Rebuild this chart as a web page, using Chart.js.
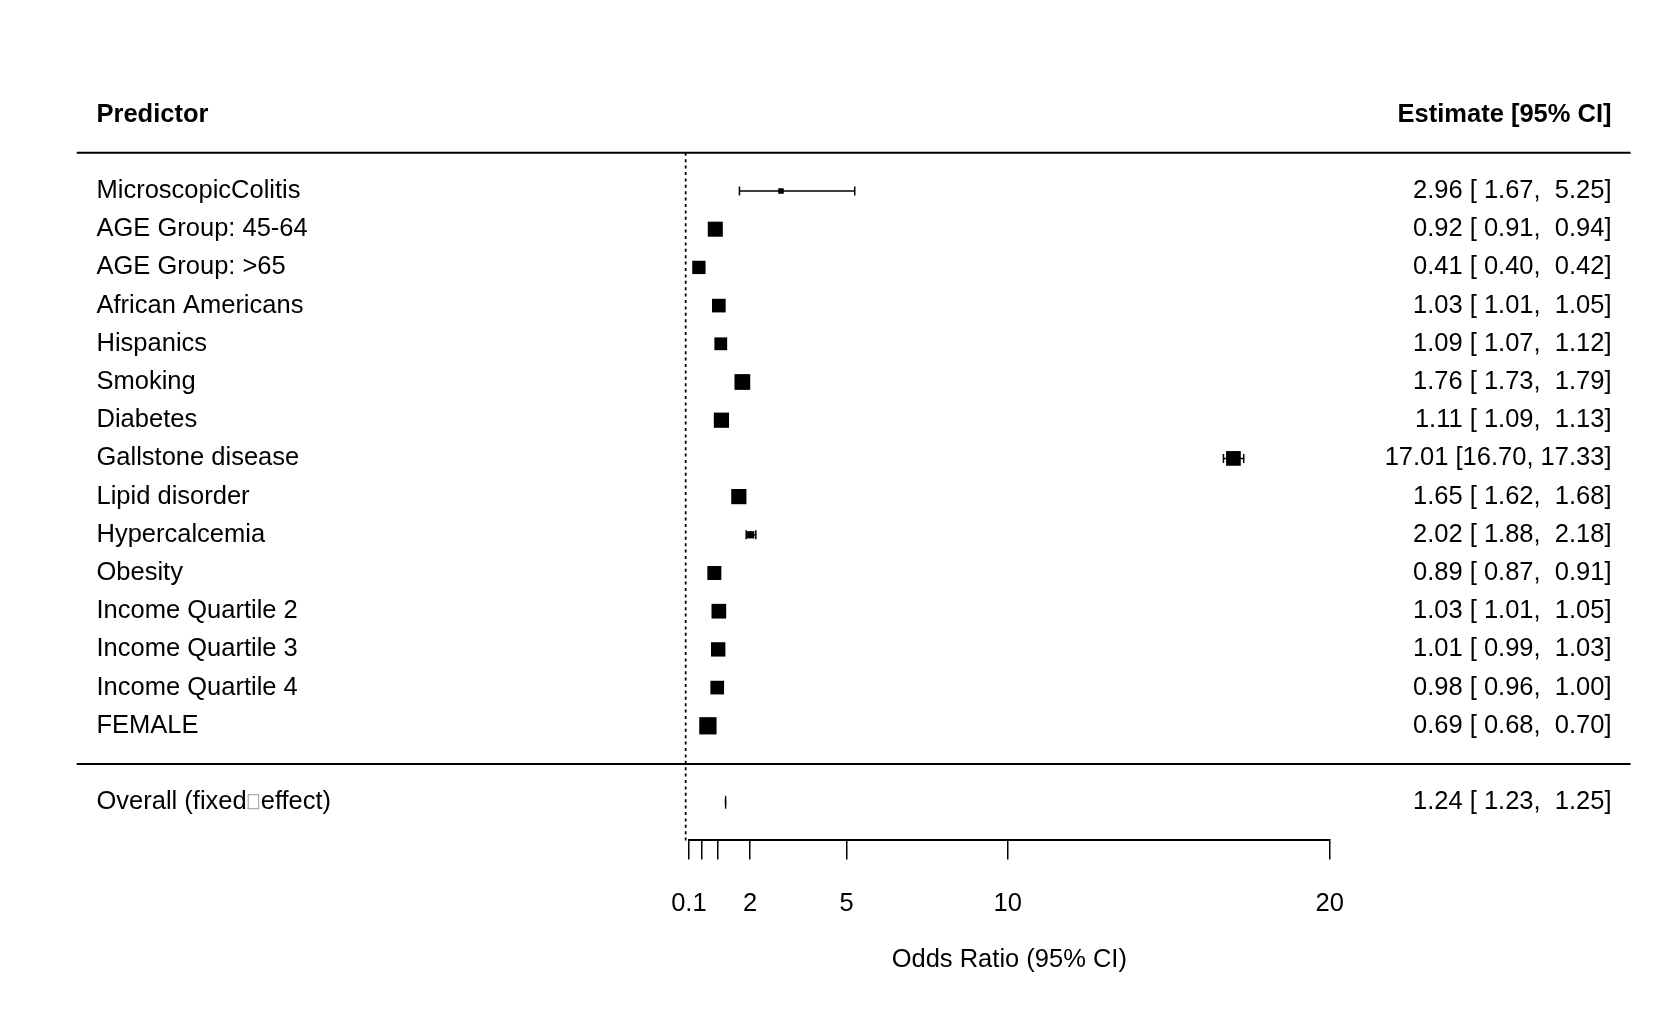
<!DOCTYPE html>
<html>
<head>
<meta charset="utf-8">
<script src="https://cdn.jsdelivr.net/npm/chart.js@4.4.1/dist/chart.umd.min.js"></script>
<style>
  html, body { margin: 0; padding: 0; background: #fff; }
  canvas { display: block; }
</style>
</head>
<body>
<canvas id="forest" width="1670" height="1032"></canvas>
<script>
// rows, top to bottom
const predictors = [
  'MicroscopicColitis', 'AGE Group: 45-64', 'AGE Group: >65', 'African Americans',
  'Hispanics', 'Smoking', 'Diabetes', 'Gallstone disease', 'Lipid disorder',
  'Hypercalcemia', 'Obesity', 'Income Quartile 2', 'Income Quartile 3',
  'Income Quartile 4', 'FEMALE'
];
const estimates = [2.96, 0.92, 0.41, 1.03, 1.09, 1.76, 1.11, 17.01, 1.65, 2.02, 0.89, 1.03, 1.01, 0.98, 0.69];
const ciLower   = [1.67, 0.91, 0.40, 1.01, 1.07, 1.73, 1.09, 16.70, 1.62, 1.88, 0.87, 1.01, 0.99, 0.96, 0.68];
const ciUpper   = [5.25, 0.94, 0.42, 1.05, 1.12, 1.79, 1.13, 17.33, 1.68, 2.18, 0.91, 1.05, 1.03, 1.00, 0.70];
// relative box weight (largest = 1)
const boxWeights = [0.32, 0.87, 0.77, 0.79, 0.74, 0.91, 0.88, 0.85, 0.88, 0.42, 0.81, 0.85, 0.83, 0.79, 1.0];

const overallLabel = 'Overall (fixed\u2010effect)';
const overallEst = 1.24;
const overallLower = 1.23;
const overallUpper = 1.25;

const tickValues = [0.1, 0.5, 1, 2, 5, 10, 20];
const tickLabels = ['0.1', '', '', '2', '5', '10', '20'];

const headerLeft = 'Predictor';
const headerRight = 'Estimate [95% CI]';
const axisTitle = 'Odds Ratio (95% CI)';

const FONT = '"Liberation Sans", Arial, Helvetica, sans-serif';
const FS = 25.5;
const BOX_MAX = 17.3;
const LEFT_X = 96.5;
const RIGHT_X = 1611.5;
const LINE_X0 = 76.7;
const LINE_X1 = 1630.6;

const nRows = predictors.length;
const sepRow = nRows + 1;      // line above overall
const overallRow = nRows + 2;
const axisRow = nRows + 3;

const decimals = v => v.toFixed(2);
const allCi = ciLower.concat(ciUpper, [overallLower, overallUpper]).map(decimals);
const padW = Math.max(...allCi.map(s => s.length));
const pad = s => ' '.repeat(padW - s.length) + s;
const ciText = (e, lo, hi) => decimals(e) + ' [' + pad(decimals(lo)) + ', ' + pad(decimals(hi)) + ']';

const forestDecor = {
  id: 'forestDecor',
  beforeDatasetsDraw(chart) {
    const { ctx, scales: { x, y } } = chart;
    ctx.save();
    ctx.strokeStyle = '#000';

    // reference line
    const x0 = x.getPixelForValue(0);
    ctx.lineWidth = 1.8;
    ctx.setLineDash([3, 3.4]);
    ctx.beginPath();
    ctx.moveTo(x0, y.getPixelForValue(0));
    ctx.lineTo(x0, y.getPixelForValue(axisRow));
    ctx.stroke();
    ctx.setLineDash([]);

    // confidence intervals
    ctx.lineWidth = 1.5;
    estimates.forEach((e, i) => {
      const py = y.getPixelForValue(i + 1);
      const xl = x.getPixelForValue(ciLower[i]);
      const xh = x.getPixelForValue(ciUpper[i]);
      ctx.beginPath();
      ctx.moveTo(xl, py); ctx.lineTo(xh, py);
      ctx.moveTo(xl, py - 4.5); ctx.lineTo(xl, py + 4.5);
      ctx.moveTo(xh, py - 4.5); ctx.lineTo(xh, py + 4.5);
      ctx.stroke();
    });
    ctx.restore();
  },
  afterDatasetsDraw(chart) {
    const { ctx, scales: { x, y } } = chart;
    ctx.save();

    // horizontal rules
    ctx.strokeStyle = '#000';
    ctx.lineWidth = 2;
    [0, sepRow].forEach(r => {
      const py = y.getPixelForValue(r);
      ctx.beginPath(); ctx.moveTo(LINE_X0, py); ctx.lineTo(LINE_X1, py); ctx.stroke();
    });

    // overall diamond
    const oy = y.getPixelForValue(overallRow);
    ctx.fillStyle = '#000';
    ctx.lineWidth = 1.2;
    ctx.beginPath();
    ctx.moveTo(x.getPixelForValue(overallLower), oy);
    ctx.lineTo(x.getPixelForValue(overallEst), oy - 6.5);
    ctx.lineTo(x.getPixelForValue(overallUpper), oy);
    ctx.lineTo(x.getPixelForValue(overallEst), oy + 6.5);
    ctx.closePath();
    ctx.fill(); ctx.stroke();

    // text columns
    ctx.textBaseline = 'middle';
    ctx.fillStyle = '#000';
    ctx.font = 'bold ' + FS + 'px ' + FONT;
    const hy = y.getPixelForValue(-1);
    ctx.textAlign = 'left';
    ctx.fillText(headerLeft, LEFT_X, hy);
    ctx.textAlign = 'right';
    ctx.fillText(headerRight, RIGHT_X, hy);

    ctx.font = FS + 'px ' + FONT;
    predictors.forEach((p, i) => {
      const py = y.getPixelForValue(i + 1);
      ctx.textAlign = 'left';
      ctx.fillText(p, LEFT_X, py);
      ctx.textAlign = 'right';
      ctx.fillText(ciText(estimates[i], ciLower[i], ciUpper[i]), RIGHT_X, py);
    });

    // overall label: the hyphen glyph shows as a missing-glyph box
    ctx.textAlign = 'left';
    const parts = overallLabel.split('\u2010');
    ctx.fillText(parts[0], LEFT_X, oy);
    let cx = LEFT_X + ctx.measureText(parts[0]).width;
    ctx.strokeStyle = '#9a9a9a';
    ctx.lineWidth = 1;
    ctx.strokeRect(cx + 1.5, oy - 7.5, 10.5, 14);
    cx += 14;
    ctx.fillText(parts[1], cx, oy);
    ctx.textAlign = 'right';
    ctx.fillText(ciText(overallEst, overallLower, overallUpper), RIGHT_X, oy);

    ctx.restore();
  }
};

new Chart(document.getElementById('forest'), {
  type: 'scatter',
  data: {
    datasets: [{
      data: estimates.map((v, i) => ({ x: v, y: i + 1 })),
      pointStyle: 'rect',
      pointRadius: boxWeights.map(w => w * BOX_MAX / (2 * Math.SQRT1_2)),
      backgroundColor: '#000',
      borderWidth: 0,
      clip: false
    }]
  },
  options: {
    responsive: false,
    animation: false,
    devicePixelRatio: 1,
    events: [],
    layout: { padding: { left: 688.9, right: 340.3, top: 152.8, bottom: 41.6 } },
    plugins: { legend: { display: false }, tooltip: { enabled: false } },
    scales: {
      x: {
        type: 'linear',
        min: 0.1,
        max: 20,
        afterBuildTicks: s => { s.ticks = tickValues.map(v => ({ value: v })); },
        afterFit: s => { s.height = 150; },
        ticks: {
          autoSkip: false, maxRotation: 0, color: '#000', padding: 29,
          font: { size: FS, family: FONT },
          callback: (v, i) => tickLabels[i]
        },
        grid: { drawOnChartArea: false, drawTicks: true, tickLength: 19, color: '#000', lineWidth: 1.5 },
        border: { display: true, color: '#000', width: 2 },
        title: {
          display: true, text: axisTitle, color: '#000',
          font: { size: FS, family: FONT }, padding: { top: 0, bottom: 15 }
        }
      },
      y: { type: 'linear', display: false, min: 0, max: axisRow, reverse: true }
    }
  },
  plugins: [forestDecor]
});
</script>
</body>
</html>
